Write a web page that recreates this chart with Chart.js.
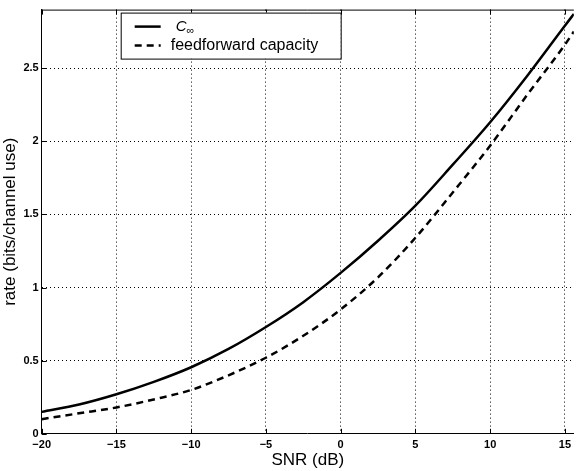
<!DOCTYPE html>
<html>
<head>
<meta charset="utf-8">
<script src="https://cdn.jsdelivr.net/npm/chart.js@4/dist/chart.umd.min.js"></script>
<style>
html, body { margin: 0; padding: 0; background: #fff; }
#wrap { width: 576px; height: 471px; position: relative; }
</style>
</head>
<body>
<div id="wrap"><canvas id="chart"></canvas></div>
<script>
// values (SNR in dB)
var snr = [-20, -17.5, -15, -12.5, -10, -7.5, -5, -2.5, 0, 2.5, 5, 7.5, 10, 12.5, 15, 15.6];
var cInf = [0.15, 0.20, 0.27, 0.355, 0.455, 0.58, 0.73, 0.90, 1.10, 1.32, 1.56, 1.84, 2.13, 2.45, 2.79, 2.87];
var feedforward = [0.10, 0.14, 0.18, 0.235, 0.30, 0.40, 0.52, 0.67, 0.85, 1.07, 1.34, 1.65, 1.97, 2.32, 2.66, 2.75];
var xTicks = [-20, -15, -10, -5, 0, 5, 10, 15];
var yTicks = [0, 0.5, 1, 1.5, 2, 2.5];

var font = 'Liberation Sans, Arial, Helvetica, sans-serif';

function pts(ys) {
    return snr.map(function(x, i) { return { x: x, y: ys[i] }; });
}

// MATLAB style frame: top line, inward ticks, boxed legend
var frame = {
    id: 'frame',
    afterDraw: function(chart) {
        var ctx = chart.ctx, a = chart.chartArea;
        var xs = chart.scales.x, ys = chart.scales.y;
        ctx.save();
        ctx.strokeStyle = '#000';
        ctx.lineWidth = 1;
        ctx.beginPath();
        ctx.moveTo(a.left, a.top + 0.5);
        ctx.lineTo(a.right, a.top + 0.5);
        xTicks.forEach(function(v) {
            var px = Math.round(xs.getPixelForValue(v)) + 0.5;
            ctx.moveTo(px, a.bottom); ctx.lineTo(px, a.bottom - 5);
            ctx.moveTo(px, a.top); ctx.lineTo(px, a.top + 5);
        });
        yTicks.forEach(function(v) {
            var py = Math.round(ys.getPixelForValue(v)) + 0.5;
            ctx.moveTo(a.left, py); ctx.lineTo(a.left + 5, py);
        });
        ctx.stroke();

        // legend
        var bx = a.left + 79, by = a.top + 3, bw = 220, bh = 46;
        ctx.fillStyle = '#fff';
        ctx.fillRect(bx, by, bw, bh);
        ctx.strokeRect(bx + 0.5, by + 0.5, bw, bh);
        chart.data.datasets.forEach(function(ds, i) {
            var ly = by + 14 + i * 19;
            ctx.beginPath();
            ctx.lineWidth = 2.5;
            ctx.setLineDash(ds.borderDash || []);
            ctx.moveTo(bx + 14, ly);
            ctx.lineTo(bx + 40, ly);
            ctx.stroke();
            ctx.setLineDash([]);
            ctx.fillStyle = '#000';
            ctx.textBaseline = 'middle';
            if (i === 0) {
                ctx.font = 'italic 15px ' + font;
                ctx.fillText('C', bx + 55, ly);
                var w = ctx.measureText('C').width;
                ctx.font = '11px ' + font;
                ctx.fillText('\u221E', bx + 55 + w, ly + 4);
            } else {
                ctx.font = '16px ' + font;
                ctx.fillText(ds.label, bx + 50, ly);
            }
        });
        ctx.restore();
    }
};

var ctx = document.getElementById('chart').getContext('2d');
var chart = new Chart(ctx, {
    type: 'line',
    data: {
        datasets: [{
            label: 'C\u221E',
            data: pts(cInf),
            borderColor: '#000',
            borderWidth: 2.5,
            pointRadius: 0,
            cubicInterpolationMode: 'monotone',
            fill: false
        }, {
            label: 'feedforward capacity',
            data: pts(feedforward),
            borderColor: '#000',
            borderWidth: 2.5,
            borderDash: [7, 5],
            pointRadius: 0,
            cubicInterpolationMode: 'monotone',
            fill: false
        }]
    },
    options: {
        responsive: true,
        maintainAspectRatio: false,
        animation: false,
        layout: { padding: { left: 0, right: 0, top: 9, bottom: 0 } },
        plugins: { legend: { display: false }, tooltip: { enabled: false } },
        scales: {
            x: {
                type: 'linear',
                min: -20,
                max: 15.6,
                afterBuildTicks: function(s) { s.ticks = xTicks.map(function(v) { return { value: v }; }); },
                grid: { color: '#000', lineWidth: 1, drawTicks: false, tickLength: 0 },
                border: { display: true, color: '#000', width: 1, dash: [1, 3] },
                ticks: {
                    color: '#000',
                    padding: 5,
                    maxRotation: 0,
                    font: { family: font, size: 11, weight: 'bold' },
                    callback: function(v) { return v < 0 ? '\u2212' + Math.abs(v) : String(v); }
                },
                title: { display: true, text: 'SNR (dB)', color: '#000', font: { family: font, size: 17, lineHeight: 1 }, padding: { top: -5, bottom: 2 } }
            },
            y: {
                type: 'linear',
                min: 0,
                max: 2.9,
                afterBuildTicks: function(s) { s.ticks = yTicks.map(function(v) { return { value: v }; }); },
                grid: { color: '#000', lineWidth: 1, drawTicks: false, tickLength: 0 },
                border: { display: true, color: '#000', width: 1, dash: [1, 3] },
                ticks: {
                    color: '#000',
                    padding: 3,
                    font: { family: font, size: 11, weight: 'bold' },
                    callback: function(v) { return String(v); }
                },
                title: { display: true, text: 'rate (bits/channel use)', color: '#000', font: { family: font, size: 17 }, padding: { top: 0, bottom: 0 } }
            }
        }
    },
    plugins: [frame]
});
</script>
</body>
</html>
